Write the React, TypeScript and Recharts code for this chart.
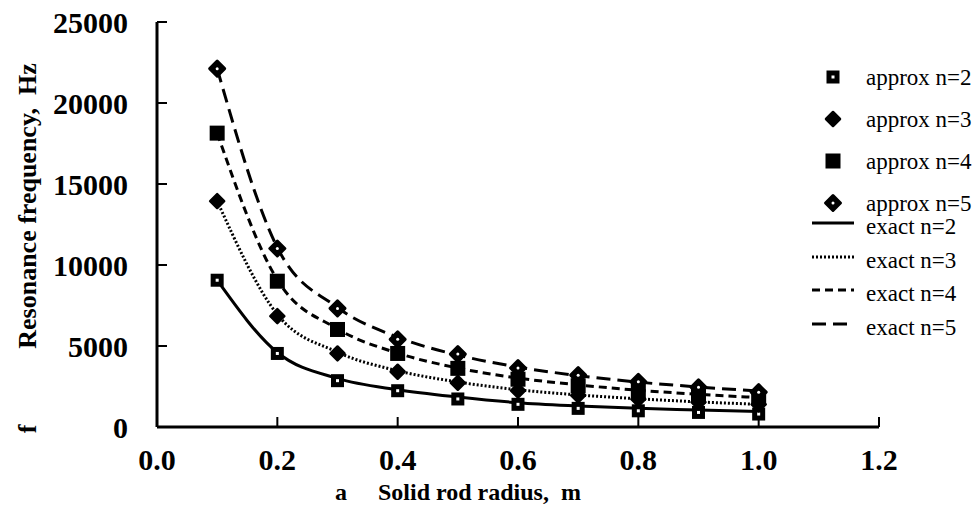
import React from "react";
import { ComposedChart, Line, XAxis, YAxis } from "recharts";

// solid rod radius a, m
const radius = [0.1, 0.2, 0.3, 0.4, 0.5, 0.6, 0.7, 0.8, 0.9, 1.0];

// approximate resonance frequencies, Hz (markers)
const approx2 = [9060, 4540, 2860, 2240, 1730, 1400, 1150, 1000, 900, 800];
const approx3 = [13950, 6840, 4540, 3410, 2730, 2240, 1950, 1720, 1540, 1400];
const approx4 = [18140, 9000, 6020, 4540, 3620, 2950, 2550, 2250, 2000, 1800];
const approx5 = [22120, 11020, 7320, 5410, 4500, 3640, 3200, 2790, 2450, 2150];

// exact resonance frequencies, Hz (curves)
const exact2 = [9060, 4600, 3000, 2300, 1850, 1500, 1300, 1150, 1050, 950];
const exact3 = [13950, 6950, 4620, 3470, 2780, 2300, 1980, 1740, 1550, 1400];
const exact4 = [18140, 9080, 6060, 4560, 3640, 3020, 2600, 2270, 2020, 1820];
const exact5 = [22120, 11080, 7380, 5540, 4440, 3700, 3170, 2770, 2470, 2220];

const xTicks = [0, 0.2, 0.4, 0.6, 0.8, 1.0, 1.2];
const yTicks = [0, 5000, 10000, 15000, 20000, 25000];

const data = radius.map((a, i) => ({
  a,
  approx2: approx2[i],
  approx3: approx3[i],
  approx4: approx4[i],
  approx5: approx5[i],
  exact2: exact2[i],
  exact3: exact3[i],
  exact4: exact4[i],
  exact5: exact5[i],
}));

const serif = '"Liberation Serif", "Times New Roman", serif';

const OpenSquare = ({ cx, cy }: any) => (
  <g>
    <rect x={cx - 6.5} y={cy - 6.5} width={13} height={13} fill="#000" />
    <rect x={cx - 1.5} y={cy - 1.5} width={3} height={3} fill="#fff" />
  </g>
);

const Diamond = ({ cx, cy }: any) => (
  <path
    d={`M${cx},${cy - 7} L${cx + 7},${cy} L${cx},${cy + 7} L${cx - 7},${cy} Z`}
    fill="#000"
    stroke="#000"
    strokeWidth={2.5}
    strokeLinejoin="round"
  />
);

const FilledSquare = ({ cx, cy }: any) => (
  <rect x={cx - 7.5} y={cy - 7.5} width={15} height={15} fill="#000" />
);

const DotDiamond = ({ cx, cy }: any) => (
  <g>
    <path
      d={`M${cx},${cy - 7.5} L${cx + 7.5},${cy} L${cx},${cy + 7.5} L${cx - 7.5},${cy} Z`}
      fill="#000"
      stroke="#000"
      strokeWidth={3}
      strokeLinejoin="round"
    />
    <circle cx={cx} cy={cy} r={1.5} fill="#fff" />
  </g>
);

const dotOf = (Shape: any) => (props: any) =>
  props.cx == null ? <g key={props.index} /> : <Shape key={props.index} cx={props.cx} cy={props.cy} />;

const markerItems = [
  { label: "approx n=2", Shape: OpenSquare },
  { label: "approx n=3", Shape: Diamond },
  { label: "approx n=4", Shape: FilledSquare },
  { label: "approx n=5", Shape: DotDiamond },
];

const lineItems = [
  { label: "exact n=2", dash: undefined },
  { label: "exact n=3", dash: "2 2" },
  { label: "exact n=4", dash: "8 5" },
  { label: "exact n=5", dash: "14 7" },
];

const YLabel = ({ viewBox }: any) => {
  const x = viewBox.x + 27;
  const cy = 206;
  const fy = viewBox.y + viewBox.height + 2;
  return (
    <g fontFamily={serif} fontWeight="bold" fontSize={26} fill="#000">
      <text x={x} y={cy} transform={`rotate(-90 ${x} ${cy})`} textAnchor="middle" dominantBaseline="central" xmlSpace="preserve">
        Resonance frequency,  Hz
      </text>
      <text x={x} y={fy} transform={`rotate(-90 ${x} ${fy})`} textAnchor="middle" dominantBaseline="central">
        f
      </text>
    </g>
  );
};

const XLabel = ({ viewBox }: any) => {
  const y = viewBox.y + 73;
  return (
    <g fontFamily={serif} fontWeight="bold" fontSize={24} fill="#000">
      <text x={335} y={y}>a</text>
      <text x={378} y={y} xmlSpace="preserve">Solid rod radius,  m</text>
    </g>
  );
};

const ChartLegend = () => (
  <div style={{ position: "absolute", left: 0, top: 0, fontFamily: serif, fontSize: 23, color: "#000" }}>
    {markerItems.map((item, i) => (
      <div key={item.label} style={{ position: "absolute", left: 800, top: 78 + i * 42 - 13, height: 26, lineHeight: "26px", whiteSpace: "nowrap", display: "flex" }}>
        <svg width={66} height={26}>
          <item.Shape cx={33} cy={12} />
        </svg>
        <span>{item.label}</span>
      </div>
    ))}
    {lineItems.map((item, i) => (
      <div key={item.label} style={{ position: "absolute", left: 800, top: 227 + i * 33.5 - 13, height: 26, lineHeight: "26px", whiteSpace: "nowrap", display: "flex" }}>
        <svg width={66} height={26}>
          <line x1={12} x2={54} y1={9} y2={9} stroke="#000" strokeWidth={3} strokeDasharray={item.dash} />
        </svg>
        <span>{item.label}</span>
      </div>
    ))}
  </div>
);

export default function App() {
  return (
    <div style={{ position: "absolute", left: 0, top: 0, width: 977, height: 507, background: "#fff" }}>
      <ComposedChart width={977} height={507} data={data} margin={{ top: 22, right: 98, bottom: 0, left: 0 }}>
        <XAxis
          dataKey="a"
          type="number"
          domain={[0, 1.2]}
          ticks={xTicks}
          height={80}
          tickSize={-10}
          tickMargin={32}
          tickFormatter={(v: number) => v.toFixed(1)}
          axisLine={{ stroke: "#000", strokeWidth: 3 }}
          tickLine={{ stroke: "#000", strokeWidth: 2 }}
          tick={{ fill: "#000", fontSize: 30, fontWeight: "bold", fontFamily: serif }}
          label={{ content: XLabel }}
        />
        <YAxis
          type="number"
          domain={[0, 25000]}
          ticks={yTicks}
          width={157}
          tickSize={-10}
          tickMargin={39}
          axisLine={{ stroke: "#000", strokeWidth: 3 }}
          tickLine={{ stroke: "#000", strokeWidth: 2 }}
          tick={{ fill: "#000", fontSize: 30, fontWeight: "bold", fontFamily: serif }}
          label={{ content: YLabel }}
        />
        <Line dataKey="exact2" type="monotone" stroke="#000" strokeWidth={3} dot={false} isAnimationActive={false} />
        <Line dataKey="exact3" type="monotone" stroke="#000" strokeWidth={3} strokeDasharray="2 2" dot={false} isAnimationActive={false} />
        <Line dataKey="exact4" type="monotone" stroke="#000" strokeWidth={3} strokeDasharray="8 5" dot={false} isAnimationActive={false} />
        <Line dataKey="exact5" type="monotone" stroke="#000" strokeWidth={3} strokeDasharray="14 7" dot={false} isAnimationActive={false} />
        <Line dataKey="approx2" stroke="none" dot={dotOf(OpenSquare)} activeDot={false} isAnimationActive={false} />
        <Line dataKey="approx3" stroke="none" dot={dotOf(Diamond)} activeDot={false} isAnimationActive={false} />
        <Line dataKey="approx4" stroke="none" dot={dotOf(FilledSquare)} activeDot={false} isAnimationActive={false} />
        <Line dataKey="approx5" stroke="none" dot={dotOf(DotDiamond)} activeDot={false} isAnimationActive={false} />
      </ComposedChart>
      <ChartLegend />
    </div>
  );
}
